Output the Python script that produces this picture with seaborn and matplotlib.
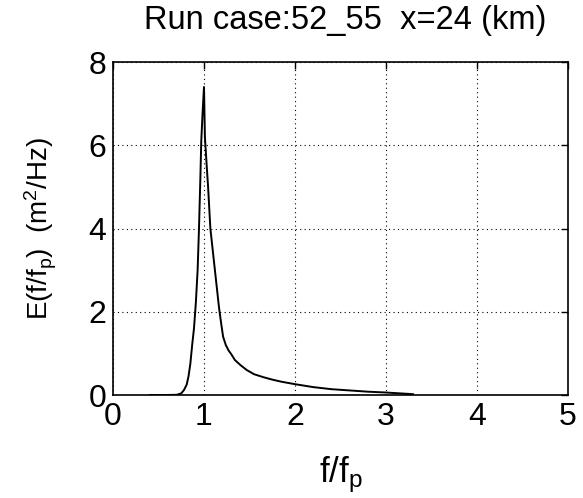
import matplotlib
matplotlib.use("Agg")
import matplotlib.pyplot as plt
import seaborn as sns
import pandas as pd

# Data
f_ratio = [0.40, 0.55, 0.70, 0.75, 0.78, 0.81, 0.83, 0.85, 0.87, 0.89, 0.91,
           0.93, 0.945, 0.96, 0.97, 0.985, 1.00, 1.01, 1.03, 1.045, 1.07,
           1.09, 1.11, 1.14, 1.165, 1.19, 1.21, 1.24, 1.27, 1.30, 1.34,
           1.40, 1.47, 1.55, 1.65, 1.75, 1.85, 2.00, 2.20, 2.40, 2.60,
           2.80, 3.00, 3.15, 3.30]
energy = [0.0, 0.0, 0.005, 0.04, 0.12, 0.25, 0.45, 0.75, 1.2, 1.6, 2.2,
          3.0, 4.0, 5.2, 6.1, 6.8, 7.4, 6.2, 5.5, 5.0, 4.0,
          3.6, 3.2, 2.6, 2.1, 1.7, 1.4, 1.2, 1.07, 0.98, 0.84,
          0.72, 0.60, 0.50, 0.43, 0.37, 0.32, 0.26, 0.19, 0.14, 0.11,
          0.08, 0.06, 0.04, 0.02]
x_ticks = [0, 1, 2, 3, 4, 5]
y_ticks = [0, 2, 4, 6, 8]
title_text = "Run case:52_55  x=24 (km)"

df = pd.DataFrame({"f": f_ratio, "E": energy})

sns.set_style("white")
plt.rcParams['font.family'] = ['Liberation Sans', 'DejaVu Sans']
plt.rcParams['mathtext.fontset'] = 'custom'
plt.rcParams['mathtext.rm'] = 'Liberation Sans'
plt.rcParams['mathtext.it'] = 'Liberation Sans'
plt.rcParams['text.color'] = 'black'
plt.rcParams['axes.labelcolor'] = 'black'

fig = plt.figure(figsize=(5.83, 4.98), dpi=100)
ax = fig.add_axes([0.1938, 0.2068, 0.7805, 0.6687])

sns.lineplot(data=df, x="f", y="E", ax=ax, color="black", linewidth=1.4,
             sort=False, estimator=None)

ax.set_xlim(0, 5)
ax.set_ylim(0, 8)
ax.set_xticks(x_ticks)
ax.set_yticks(y_ticks)
ax.set_xticklabels([str(t) for t in x_ticks])
ax.set_yticklabels([str(t) for t in y_ticks])

ax.grid(True, linestyle=(0, (1, 3)), color="black", linewidth=0.8)
ax.set_axisbelow(True)
ax.tick_params(direction="in", length=5, width=1, top=True, right=True,
               labelsize=23, pad=5, colors="black")
for s in ax.spines.values():
    s.set_visible(True)
    s.set_color("black")
    s.set_linewidth(1.2)

ax.set_title(title_text, fontsize=23.5, pad=24, color="black", x=0.51)
ax.set_xlabel(r"f/f$_\mathrm{p}$", fontsize=25, labelpad=16)
ax.set_ylabel(r"E(f/f$_\mathrm{p}$)  (m$^\mathrm{2}$/Hz)", fontsize=20, labelpad=21)

fig.savefig("out.png", dpi=100)
